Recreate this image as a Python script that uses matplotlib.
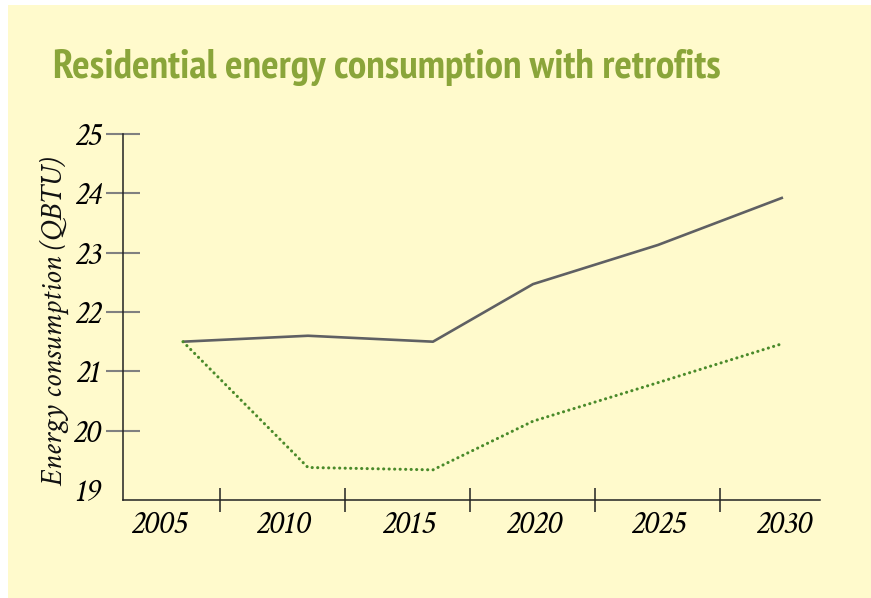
import matplotlib
matplotlib.use("Agg")
import matplotlib.pyplot as plt
from matplotlib.patches import Rectangle

# ---- data ----
categories = [2005, 2010, 2015, 2020, 2025, 2030]
data_years = [2006, 2011, 2016, 2020, 2025, 2030]
baseline = [21.50, 21.60, 21.50, 22.47, 23.13, 23.93]
retrofit = [21.50, 19.38, 19.34, 20.16, 20.81, 21.47]
y_ticks = [19, 20, 21, 22, 23, 24, 25]
title = "Residential energy consumption with retrofits"
ylabel = "Energy consumption (QBTU)"

BG = "#fffacc"
GREEN_T = "#8aa53a"
GRAY_L = "#5f6063"
GREEN_L = "#4a8a2a"
SERIF = ["Crimson Text", "Liberation Serif"]

fig = plt.figure(figsize=(8.71, 5.98), dpi=100)
fig.patch.set_facecolor("white")
fig.patches.append(Rectangle((8/871, 0), 1, (598-5)/598, transform=fig.transFigure,
                             facecolor=BG, edgecolor="none", zorder=-10))

ax = fig.add_axes([122.7/871, 1-500/598, (820-122.7)/871, (500-134)/598])
ax.set_facecolor("none")

ax.plot(data_years, baseline, color=GRAY_L, lw=1.9, solid_capstyle="butt", zorder=3)
ax.plot(data_years, retrofit, color=GREEN_L, lw=2.2, linestyle=(0, (0.05, 1.75)),
        dash_capstyle="round", zorder=3)

ax.set_xlim(2003.59, 2031.48)
ax.set_ylim(18.832, 25)

for s in ["top", "right"]:
    ax.spines[s].set_visible(False)
for s in ["left", "bottom"]:
    ax.spines[s].set_color("#222222")
    ax.spines[s].set_linewidth(1.1)

serif = dict(family=SERIF, style="italic", size=24)

# x axis: labels at categories, tick marks between categories
ax.set_xticks(categories)
ax.set_xticklabels([str(c) for c in categories], fontdict=serif)
ax.tick_params(axis="x", which="major", length=0, pad=8)
bounds = [(a + b) / 2 for a, b in zip(categories[:-1], categories[1:])]
ax.set_xticks(bounds, minor=True)
ax.tick_params(axis="x", which="minor", direction="inout", length=17, width=1.1, color="#222222")

# y axis
ax.set_yticks(y_ticks)
ax.set_yticklabels([str(v) for v in y_ticks], fontdict=serif)
ax.tick_params(axis="y", which="major", direction="inout", length=24, width=1.5,
               color="#808080", pad=4)
ax.yaxis.get_major_ticks()[0].tick1line.set_visible(False)

fig.text(54/871, 1-322/598, ylabel, rotation=90, ha="center", va="center",
         family=SERIF, style="italic", size=22.5, color="#111111")

fig.text(53/871, 1-78/598, title, ha="left", va="baseline", family=["PT Sans Narrow", "DejaVu Sans"],
         weight="bold", size=29.7, color=GREEN_T)

fig.savefig("out.png", dpi=100, facecolor=fig.get_facecolor())
